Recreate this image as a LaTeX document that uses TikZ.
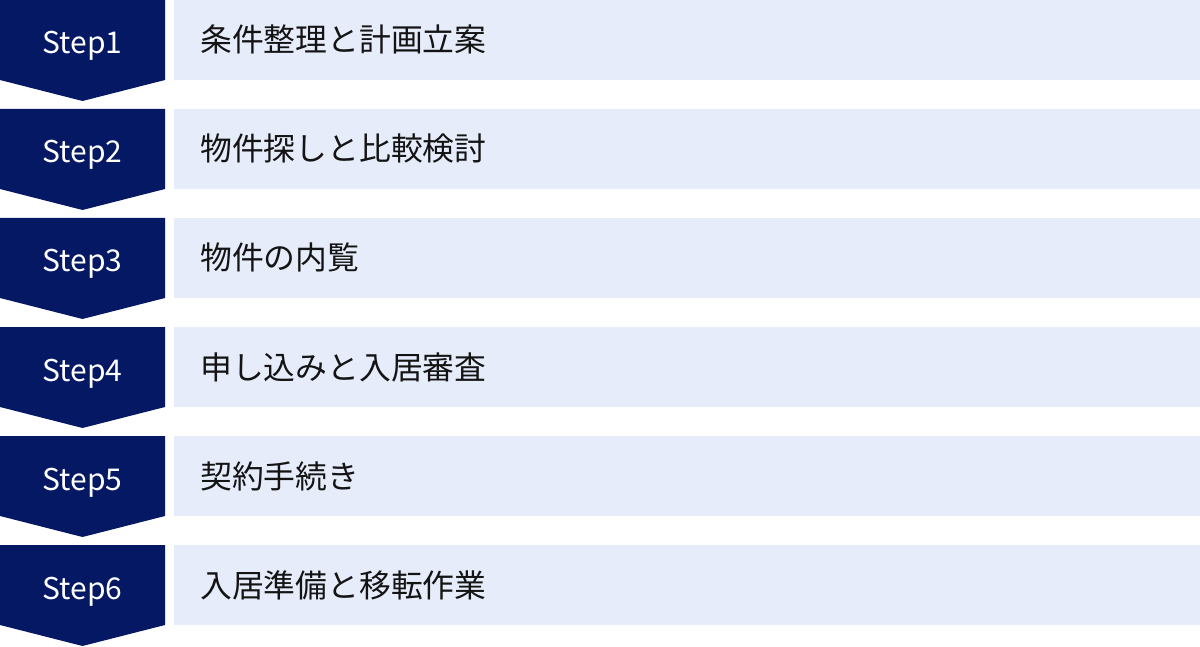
\documentclass[tikz,border=0pt]{standalone}
\usepackage{fontspec}
\setmainfont{Noto Sans CJK JP}
\definecolor{navy}{RGB}{5,24,99}
\definecolor{lightbg}{RGB}{230,236,250}
\definecolor{txt}{RGB}{20,20,20}
\begin{document}
\begin{tikzpicture}[x=1pt,y=-1pt,
  stepshape/.style={fill=navy,draw=none},
  barbox/.style={fill=lightbg,draw=none},
  steplabel/.style={anchor=base,text=white,inner sep=0pt,font=\fontsize{30}{30}\selectfont},
  itemlabel/.style={anchor=base west,text=txt,inner sep=0pt,font=\fontsize{31.8}{32}\selectfont}]
\useasboundingbox (0,0) rectangle (1200,647);
\foreach \i/\t in {1/条件整理と計画立案,2/物件探しと比較検討,3/物件の内覧,4/申し込みと入居審査,5/契約手続き,6/入居準備と移転作業}{
  \pgfmathsetmacro{\top}{(\i-1)*109}
  \path[stepshape] (0,\top) -- (165,\top) -- (165,\top+80) -- (82.5,\top+101) -- (0,\top+80) -- cycle;
  \path[barbox] (174,\top) rectangle (1200,\top+80);
  \node[steplabel] (s\i) at (82.5,\top+54) {Step\i};
  \node[itemlabel] (t\i) at (200,\top+52) {\t};
}
\end{tikzpicture}
\end{document}
